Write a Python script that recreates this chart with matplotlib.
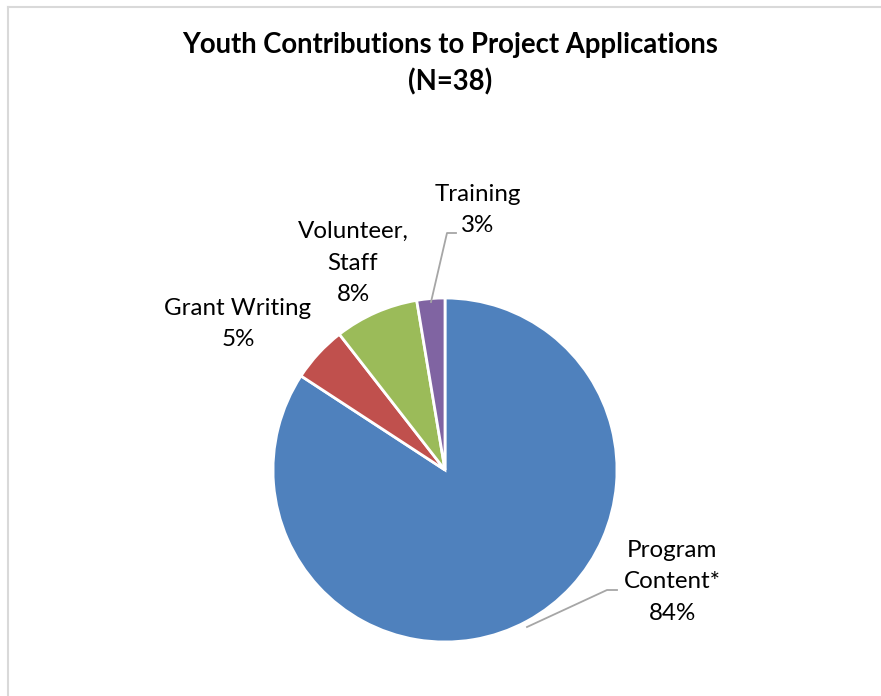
import matplotlib.pyplot as plt
from matplotlib.lines import Line2D

# data
categories = ['Program\nContent*', 'Grant Writing', 'Volunteer,\nStaff', 'Training']
counts = [32, 2, 3, 1]
colors = ['#4F81BD', '#C0504D', '#9BBB59', '#8064A2']

plt.rcParams['font.family'] = ['Lato', 'DejaVu Sans']

W, H = 881, 696
fig = plt.figure(figsize=(W / 100, H / 100), dpi=100)
ax = fig.add_axes([0, 0, 1, 1])
ax.set_xlim(0, W)
ax.set_ylim(0, H)
ax.axis('off')

# frame (only top and left visible in the original)
fig.add_artist(Line2D([7.5 / W, 7.5 / W], [0, 1 - 6.5 / H], transform=fig.transFigure,
                      color='#D9D9D9', lw=1.5))
fig.add_artist(Line2D([7.5 / W, 1], [1 - 6.5 / H, 1 - 6.5 / H], transform=fig.transFigure,
                      color='#D9D9D9', lw=1.5))

wedges, _ = ax.pie(counts, colors=colors, startangle=90, counterclock=False,
                   center=(445, H - 470), radius=172,
                   wedgeprops=dict(edgecolor='white', linewidth=2))
ax.set_aspect('equal')
ax.set_xlim(0, W)
ax.set_ylim(0, H)

total = sum(counts)
pcts = [f'{round(c / total * 100)}%' for c in counts]

# label positions (pixel, from top)
label_pos = [(672, 582), (238, 324), (353, 263), (478, 210)]
for cat, pct, (x, y) in zip(categories, pcts, label_pos):
    ax.text(x, H - y, cat + '\n' + pct, ha='center', va='center', fontsize=17.4,
            linespacing=1.62, color='black')

# leader lines
ax.plot([527, 607, 617], [H - 627, H - 590, H - 590], color='#A6A6A6', lw=1.3)
ax.plot([431, 447, 456], [H - 302, H - 233, H - 233], color='#A6A6A6', lw=1.3)

fig.text(0.511, 1 - 64 / H, 'Youth Contributions to Project Applications\n(N=38)',
         ha='center', va='center', fontsize=19.8, fontweight='bold', linespacing=1.45)

fig.savefig('out.png', dpi=100, facecolor='white')
